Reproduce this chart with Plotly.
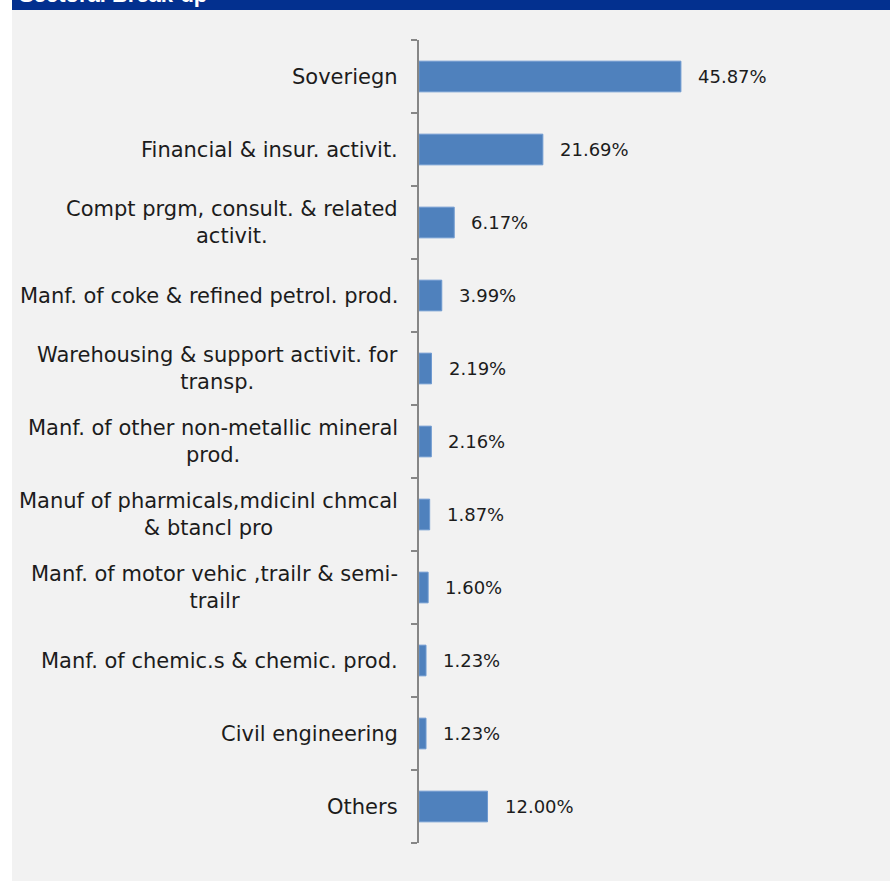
import plotly.graph_objects as go

# Sector shares of the portfolio (%)
sectors = [
    "Soveriegn",
    "Financial & insur. activit.",
    "Compt prgm, consult. & related<br>activit.",
    "Manf. of coke & refined petrol. prod.",
    "Warehousing & support activit. for<br>transp.",
    "Manf. of other non-metallic mineral<br>prod.",
    "Manuf of pharmicals,mdicinl chmcal<br>& btancl pro",
    "Manf. of motor vehic ,trailr & semi-<br>trailr",
    "Manf. of chemic.s & chemic. prod.",
    "Civil engineering",
    "Others",
]
shares = [45.87, 21.69, 6.17, 3.99, 2.19, 2.16, 1.87, 1.60, 1.23, 1.23, 12.00]
header_title = "Sectoral Break-up"

W, H = 890, 882
L, R, T, B = 419, 10, 40, 39
PW, PH = W - L - R, H - T - B

def px_x(p):
    return (p - L) / PW

def px_y(p):
    return (H - B - p) / PH

BAR = "#4f81bd"
TXT = "#1c1c1c"
AXIS = "#868686"
FONT = "DejaVu Sans"

n = len(sectors)
cat_ids = list(range(n))
# tick marks sit on the boundaries between categories
boundaries = [i - 0.5 for i in range(n + 1)]

fig = go.Figure()
fig.add_trace(go.Bar(
    x=shares,
    y=cat_ids,
    orientation="h",
    marker=dict(color=BAR, line=dict(color="#6f9ad0", width=1)),
    width=0.42,
    hoverinfo="skip",
))

annotations = []
for i, (name, v) in enumerate(zip(sectors, shares)):
    annotations.append(dict(
        x=0, xref="paper", y=i, yref="y",
        text=name, showarrow=False,
        xanchor="right", yanchor="middle", align="center",
        xshift=-19,
        font=dict(family=FONT, size=21, color=TXT),
    ))
    annotations.append(dict(
        x=v, xref="x", y=i, yref="y",
        text=f"{v:.2f}%", showarrow=False,
        xanchor="left", yanchor="middle",
        xshift=15,
        font=dict(family=FONT, size=18, color=TXT),
    ))

# header strip title (mostly above the visible page)
annotations.append(dict(
    x=px_x(17), xref="paper", y=px_y(4), yref="paper",
    text=f"<b>{header_title}</b>", showarrow=False,
    xanchor="left", yanchor="bottom", yshift=-5,
    font=dict(family="Liberation Sans", size=22, color="white"),
))

shapes = [
    # light grey panel
    dict(type="rect", xref="paper", yref="paper", layer="below",
         x0=px_x(12), x1=px_x(W + 2), y0=px_y(881), y1=px_y(10),
         fillcolor="#f2f2f2", line=dict(width=0)),
    # dark blue header strip
    dict(type="rect", xref="paper", yref="paper", layer="below",
         x0=px_x(12), x1=px_x(W + 2), y0=px_y(10), y1=px_y(-5),
         fillcolor="#03308f", line=dict(width=0)),
]

fig.update_layout(
    width=W, height=H,
    margin=dict(l=L, r=R, t=T, b=B, pad=0),
    paper_bgcolor="white",
    plot_bgcolor="rgba(0,0,0,0)",
    showlegend=False,
    bargap=0.58,
    annotations=annotations,
    shapes=shapes,
    xaxis=dict(range=[0, PW / 5.71], visible=False, fixedrange=True),
    yaxis=dict(
        range=[n - 0.5, -0.5],
        tickmode="array", tickvals=boundaries,
        ticks="outside", ticklen=6,
        tickcolor=AXIS, tickwidth=1.5,
        showline=True, linecolor=AXIS, linewidth=1.5,
        showgrid=False, zeroline=False, showticklabels=False,
        fixedrange=True,
    ),
)

fig.write_html("out.html")
